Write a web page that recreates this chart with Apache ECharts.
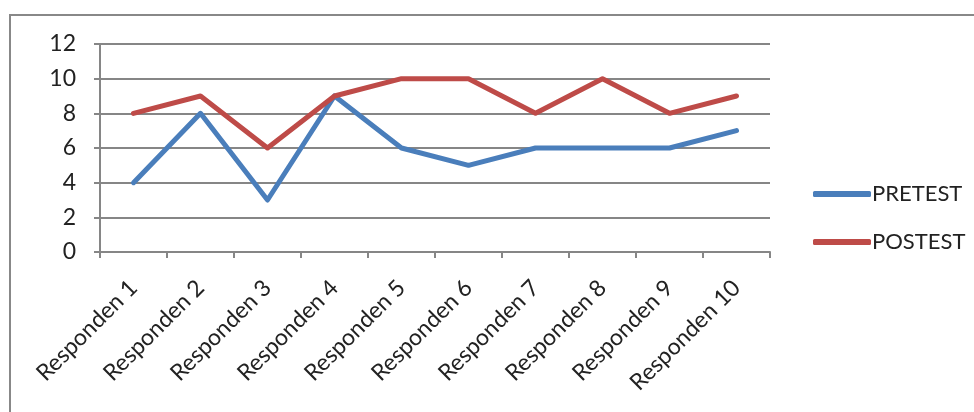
<!DOCTYPE html>
<html><head><meta charset="utf-8">
<script src="https://cdn.jsdelivr.net/npm/echarts@6/dist/echarts.min.js"></script>
<style>html,body{margin:0;padding:0;background:#fff}#c{width:974px;height:412px}</style>
</head><body><div id="c"></div>
<script>
const categories = ['Responden 1','Responden 2','Responden 3','Responden 4','Responden 5','Responden 6','Responden 7','Responden 8','Responden 9','Responden 10'];
const pretest = [4,8,3,9,6,5,6,6,6,7];
const postest = [8,9,6,9,10,10,8,10,8,9];
const seriesNames = ['PRETEST','POSTEST'];
const font = 'Lato, "Open Sans", sans-serif';
const chart = echarts.init(document.getElementById('c'));
chart.setOption({
  animation:false,
  graphic:[{type:'rect',shape:{x:10,y:15,width:1100,height:600},style:{fill:'none',stroke:'#888',lineWidth:2},silent:true}],
  grid:{left:100,top:44,right:204,bottom:160},
  legend:{orient:'vertical',left:808,top:178,itemWidth:58,itemHeight:6,itemGap:26,icon:'roundRect',
    textStyle:{fontFamily:font,fontSize:22,color:'#222',padding:[0,0,0,-4]},data:seriesNames},
  xAxis:{type:'category',data:categories,boundaryGap:true,
    axisLine:{lineStyle:{color:'#868686',width:2}},
    axisTick:{show:true,length:6,lineStyle:{color:'#868686',width:2}},
    axisLabel:{rotate:45,fontFamily:font,fontSize:23,color:'#222',margin:32,interval:0}},
  yAxis:{type:'value',min:0,max:12,interval:2,
    axisLine:{show:true,lineStyle:{color:'#868686',width:2}},
    axisTick:{show:true,length:6,lineStyle:{color:'#868686',width:2}},
    splitLine:{lineStyle:{color:'#868686',width:2}},
    axisLabel:{fontFamily:font,fontSize:23,color:'#222',margin:24}},
  series:[
    {name:seriesNames[0],type:'line',data:pretest,symbol:'none',lineStyle:{width:5,color:'#4A7EBB',cap:'round',join:'round'},itemStyle:{color:'#4A7EBB'}},
    {name:seriesNames[1],type:'line',data:postest,symbol:'none',lineStyle:{width:5,color:'#BE4B48',cap:'round',join:'round'},itemStyle:{color:'#BE4B48'}}
  ]
});
</script></body></html>
